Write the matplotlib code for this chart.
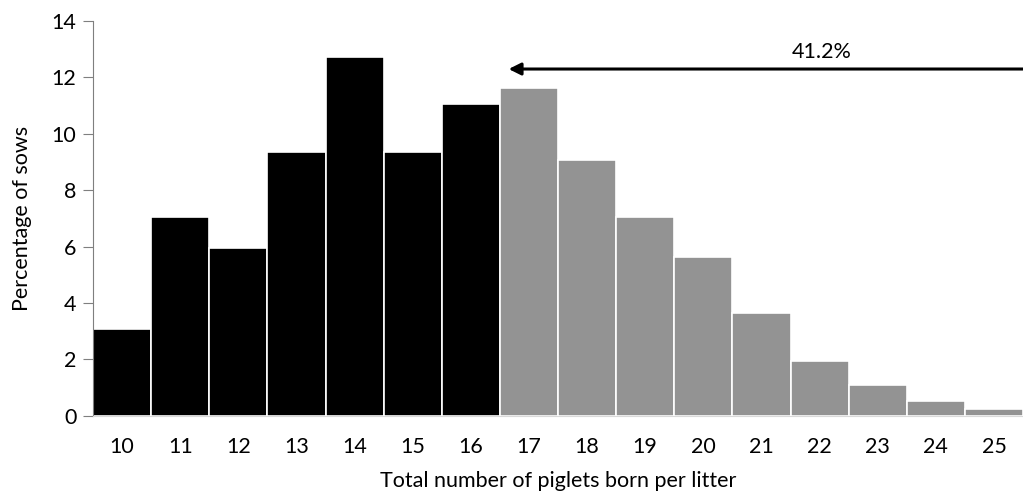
import matplotlib.pyplot as plt
import numpy as np

plt.rcParams['font.family'] = ['Lato', 'DejaVu Sans']

# litter size classes and share of sows (%)
litter_sizes = [10, 11, 12, 13, 14, 15, 16, 17, 18, 19, 20, 21, 22, 23, 24, 25]
pct_sows = [3.07, 7.06, 5.94, 9.35, 12.72, 9.35, 11.04,
            11.6, 9.05, 7.05, 5.64, 3.64, 1.94, 1.09, 0.52, 0.24]
threshold = 17          # bars from here on are grey
share_label = "41.2%"

colors = ['black' if s < threshold else '#939393' for s in litter_sizes]

fig = plt.figure(figsize=(10.23, 4.94), dpi=100)
ax = fig.add_axes([0.091, 0.158, 0.909, 0.800])

x = np.array(litter_sizes)
ax.bar(x, pct_sows, width=1.0, color=colors, edgecolor='white', linewidth=1.2)

ax.set_xlim(x[0] - 0.5, x[-1] + 0.5)
ax.set_ylim(0, 14)
ax.set_yticks(np.arange(0, 15, 2))
ax.set_xticks(x)

for side in ['top', 'right']:
    ax.spines[side].set_visible(False)
ax.spines['left'].set_color('#7f7f7f')
ax.spines['bottom'].set_color('#d9d9d9')
ax.tick_params(axis='y', direction='out', length=7, color='#7f7f7f',
               labelsize=15.5, pad=5)
ax.tick_params(axis='x', length=0, labelsize=15.5, pad=15)

ax.set_ylabel("Percentage of sows", fontsize=15.5, labelpad=14)
ax.set_xlabel("Total number of piglets born per litter", fontsize=15.5, labelpad=10)

# arrow marking the share of sows with >= 17 piglets
ax.annotate('', xy=(threshold - 0.35, 12.29), xytext=(x[-1] + 0.5, 12.29),
            arrowprops=dict(arrowstyle='-|>', color='black', lw=2.2,
                            mutation_scale=18, shrinkA=0, shrinkB=0),
            annotation_clip=False)
ax.text(22.04, 12.55, share_label, ha='center', va='bottom', fontsize=15.5)

plt.savefig("out.png", dpi=100)
